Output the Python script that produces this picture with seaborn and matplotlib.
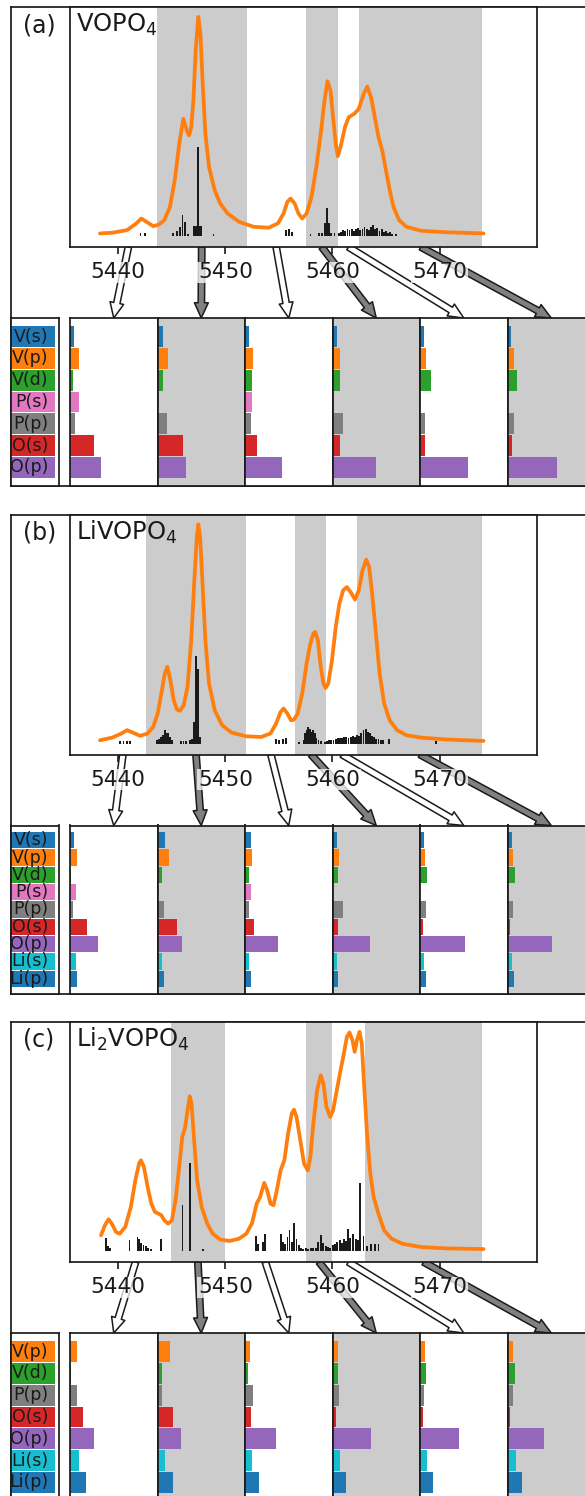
import numpy as np
import pandas as pd
import matplotlib
matplotlib.use("Agg")
import matplotlib.pyplot as plt
import matplotlib.transforms as mtransforms
import seaborn as sns

sns.set_theme(style="white", rc={"text.color": "k", "axes.edgecolor": "k",
                                 "xtick.color": "k", "axes.labelcolor": "k"})
plt.rcParams["font.family"] = ["DejaVu Sans"]

# ---------------- data ----------------
tick_values = [5440, 5450, 5460, 5470]
tick_labels = ["5440", "5450", "5460", "5470"]

# (a) VOPO4 spectrum
a_energy = [5438.30, 5439.44, 5440.83, 5441.70, 5442.16, 5442.64, 5443.27, 5443.79, 5444.31, 5444.83,
            5445.28, 5445.70, 5446.08, 5446.40, 5446.61, 5446.82, 5447.02, 5447.23, 5447.48, 5447.68,
            5447.89, 5448.14, 5448.48, 5449.01, 5449.53, 5450.22, 5451.27, 5452.66, 5454.05, 5454.92,
            5455.44, 5455.79, 5456.10, 5456.48, 5456.83, 5457.18, 5457.59, 5458.05, 5458.50, 5458.91,
            5459.26, 5459.54, 5459.82, 5460.06, 5460.31, 5460.51, 5460.83, 5461.17, 5461.52, 5462.04,
            5462.46, 5462.91, 5463.26, 5463.61, 5463.96, 5464.30, 5464.65, 5465.00, 5465.35, 5465.70,
            5466.22, 5466.91, 5468.30, 5470.74, 5474.11]
a_intensity = [0.012, 0.015, 0.027, 0.058, 0.080, 0.065, 0.045, 0.052, 0.073, 0.133,
               0.255, 0.421, 0.535, 0.482, 0.459, 0.497, 0.618, 0.845, 1.000, 0.921,
               0.694, 0.467, 0.315, 0.209, 0.148, 0.103, 0.065, 0.042, 0.038, 0.058,
               0.103, 0.156, 0.171, 0.148, 0.103, 0.080, 0.103, 0.179, 0.315, 0.467,
               0.618, 0.706, 0.664, 0.542, 0.421, 0.364, 0.421, 0.497, 0.542, 0.558,
               0.580, 0.648, 0.682, 0.633, 0.542, 0.452, 0.391, 0.300, 0.209, 0.133,
               0.073, 0.042, 0.024, 0.017, 0.012]
a_stick_x = [5442.08, 5442.5, 5445.15, 5445.5, 5445.8, 5446.0, 5446.2, 5446.5, 5447.1, 5447.25,
             5447.46, 5447.6, 5447.75, 5448.9,
             5455.7, 5455.96, 5456.2, 5457.96, 5458.76, 5459.0, 5459.3, 5459.5, 5459.7, 5459.9, 5460.2,
             5460.6, 5460.8, 5461.0, 5461.2, 5461.4, 5461.6, 5461.8, 5462.0, 5462.2, 5462.4,
             5462.6, 5462.8, 5463.0, 5463.2, 5463.4, 5463.6, 5463.8, 5464.0, 5464.2, 5464.4,
             5464.6, 5464.8, 5465.0, 5465.2, 5465.4, 5465.6, 5465.9]
a_stick_h = [0.014, 0.012, 0.013, 0.024, 0.04, 0.097, 0.062, 0.01, 0.047, 0.047,
             0.406, 0.047, 0.047, 0.01,
             0.026, 0.03, 0.02, 0.01, 0.015, 0.015, 0.06, 0.13, 0.06, 0.015, 0.015,
             0.012, 0.02, 0.026, 0.022, 0.03, 0.026, 0.033, 0.024, 0.03, 0.035,
             0.027, 0.03, 0.04, 0.033, 0.028, 0.04, 0.05, 0.03, 0.036, 0.022,
             0.03, 0.018, 0.024, 0.014, 0.02, 0.01, 0.008]
a_bounds = [5438.3, 5443.6, 5452.0, 5457.5, 5460.5, 5462.5, 5474.0]
a_orbitals = ["V(s)", "V(p)", "V(d)", "P(s)", "P(p)", "O(s)", "O(p)"]
a_dos_1 = [0.043, 0.098, 0.034, 0.098, 0.056, 0.278, 0.350]
a_dos_2 = [0.060, 0.120, 0.060, 0.004, 0.111, 0.295, 0.325]
a_dos_3 = [0.043, 0.090, 0.081, 0.077, 0.064, 0.141, 0.419]
a_dos_4 = [0.047, 0.090, 0.090, 0.021, 0.120, 0.081, 0.500]
a_dos_5 = [0.043, 0.068, 0.128, 0.004, 0.060, 0.056, 0.543]
a_dos_6 = [0.038, 0.077, 0.111, 0.004, 0.073, 0.047, 0.568]

# (b) LiVOPO4 spectrum
b_energy = [5438.30, 5439.44, 5440.31, 5440.83, 5441.36, 5442.05, 5442.75, 5443.27, 5443.69, 5444.03,
            5444.35, 5444.59, 5444.87, 5445.18, 5445.49, 5445.77, 5446.12, 5446.47, 5446.82, 5447.09,
            5447.34, 5447.48, 5447.65, 5447.89, 5448.14, 5448.48, 5449.01, 5449.70, 5450.57, 5451.96,
            5453.35, 5454.22, 5454.74, 5455.16, 5455.44, 5455.79, 5456.13, 5456.41, 5456.76, 5457.18,
            5457.59, 5457.94, 5458.22, 5458.39, 5458.64, 5458.91, 5459.16, 5459.37, 5459.61, 5459.96,
            5460.31, 5460.65, 5461.00, 5461.35, 5461.70, 5462.11, 5462.46, 5462.81, 5463.16, 5463.43,
            5463.71, 5464.06, 5464.41, 5464.83, 5465.35, 5466.04, 5466.91, 5468.30, 5470.74, 5474.11]
b_intensity = [0.015, 0.027, 0.046, 0.061, 0.050, 0.035, 0.046, 0.076, 0.137, 0.228,
               0.319, 0.350, 0.289, 0.198, 0.155, 0.149, 0.175, 0.258, 0.471, 0.729,
               0.942, 1.000, 0.942, 0.714, 0.471, 0.274, 0.152, 0.084, 0.050, 0.033,
               0.030, 0.046, 0.091, 0.144, 0.160, 0.137, 0.106, 0.109, 0.137, 0.228,
               0.365, 0.456, 0.502, 0.509, 0.471, 0.350, 0.274, 0.254, 0.274, 0.380,
               0.532, 0.638, 0.699, 0.714, 0.691, 0.657, 0.699, 0.790, 0.839, 0.805,
               0.684, 0.502, 0.319, 0.182, 0.106, 0.061, 0.038, 0.027, 0.018, 0.012]
b_stick_x = [5440.2, 5440.5, 5440.8, 5441.1,
             5443.6, 5443.8, 5444.0, 5444.2, 5444.4, 5444.55, 5444.7, 5444.85, 5445.0,
             5445.9, 5446.1, 5446.3, 5446.7, 5446.9, 5447.1, 5447.27, 5447.43, 5447.6,
             5454.7, 5455.0, 5455.4, 5455.65,
             5456.9, 5457.3, 5457.45, 5457.6, 5457.75, 5457.9, 5458.05, 5458.2, 5458.35, 5458.5,
             5458.7, 5458.9,
             5459.3, 5459.5, 5459.7, 5459.9, 5460.1, 5460.3, 5460.5, 5460.7, 5460.9, 5461.1,
             5461.3, 5461.5, 5461.7, 5461.9, 5462.1, 5462.3, 5462.5, 5462.7, 5462.9, 5463.1,
             5463.3, 5463.5, 5463.7, 5463.9, 5464.1, 5464.3, 5464.5, 5464.7,
             5465.3, 5469.7]
b_stick_h = [0.01, 0.01, 0.01, 0.01,
             0.015, 0.023, 0.03, 0.038, 0.061, 0.05, 0.046, 0.03, 0.015,
             0.01, 0.01, 0.01, 0.015, 0.023, 0.1, 0.40, 0.34, 0.03,
             0.02, 0.015, 0.023, 0.026,
             0.005, 0.015, 0.046, 0.06, 0.076, 0.068, 0.053, 0.06, 0.046, 0.027,
             0.018, 0.012,
             0.008, 0.012, 0.015, 0.016, 0.018, 0.022, 0.025, 0.027, 0.024, 0.029,
             0.03, 0.027, 0.032, 0.033, 0.03, 0.038, 0.035, 0.046, 0.061, 0.068,
             0.053, 0.046, 0.035, 0.03, 0.023, 0.02, 0.018, 0.015,
             0.02, 0.012]
b_bounds = [5438.3, 5442.57, 5451.96, 5456.55, 5459.44, 5462.32, 5474.0]
b_orbitals = ["V(s)", "V(p)", "V(d)", "P(s)", "P(p)", "O(s)", "O(p)", "Li(s)", "Li(p)"]
b_dos_1 = [0.043, 0.081, 0.017, 0.068, 0.034, 0.197, 0.325, 0.068, 0.085]
b_dos_2 = [0.081, 0.132, 0.051, 0.004, 0.073, 0.222, 0.282, 0.056, 0.077]
b_dos_3 = [0.064, 0.077, 0.047, 0.064, 0.047, 0.107, 0.372, 0.047, 0.064]
b_dos_4 = [0.051, 0.073, 0.060, 0.004, 0.115, 0.068, 0.432, 0.047, 0.064]
b_dos_5 = [0.047, 0.060, 0.085, 0.004, 0.064, 0.034, 0.509, 0.047, 0.064]
b_dos_6 = [0.047, 0.068, 0.090, 0.004, 0.060, 0.026, 0.509, 0.056, 0.077]

# (c) Li2VOPO4 spectrum
c_energy = [5438.40, 5438.75, 5439.10, 5439.44, 5439.79, 5440.14, 5440.66, 5441.18, 5441.60, 5441.95,
            5442.12, 5442.40, 5442.75, 5443.09, 5443.44, 5443.79, 5444.03, 5444.31, 5444.66, 5445.01,
            5445.35, 5445.70, 5445.98, 5446.26, 5446.47, 5446.68, 5446.85, 5447.09, 5447.37, 5447.79,
            5448.31, 5448.83, 5449.53, 5450.40, 5451.27, 5451.96, 5452.48, 5452.93, 5453.25, 5453.63,
            5453.91, 5454.22, 5454.50, 5454.81, 5455.16, 5455.51, 5455.86, 5456.20, 5456.41, 5456.65,
            5457.00, 5457.35, 5457.70, 5457.94, 5458.22, 5458.57, 5458.91, 5459.16, 5459.44, 5459.79,
            5460.06, 5460.41, 5460.76, 5461.07, 5461.35, 5461.59, 5461.87, 5462.08, 5462.29, 5462.53,
            5462.74, 5462.95, 5463.23, 5463.54, 5463.85, 5464.30, 5464.83, 5465.52, 5466.56, 5468.30,
            5470.74, 5474.11]
c_intensity = [0.072, 0.117, 0.145, 0.122, 0.087, 0.079, 0.110, 0.201, 0.323, 0.399,
               0.414, 0.384, 0.292, 0.216, 0.178, 0.170, 0.163, 0.140, 0.125, 0.140,
               0.231, 0.384, 0.521, 0.566, 0.642, 0.706, 0.673, 0.505, 0.323, 0.201,
               0.125, 0.079, 0.052, 0.046, 0.056, 0.079, 0.125, 0.216, 0.247, 0.311,
               0.277, 0.216, 0.209, 0.277, 0.368, 0.414, 0.536, 0.627, 0.645, 0.612,
               0.505, 0.399, 0.368, 0.429, 0.581, 0.734, 0.802, 0.764, 0.658, 0.612,
               0.642, 0.734, 0.825, 0.901, 0.977, 0.997, 0.962, 0.909, 0.962, 1.000,
               0.947, 0.764, 0.536, 0.353, 0.247, 0.170, 0.094, 0.056, 0.033, 0.018,
               0.012, 0.009]
c_stick_x = [5438.85, 5439.04, 5439.2, 5441.05, 5441.8, 5441.95, 5442.14, 5442.36, 5442.58, 5442.8,
             5443.1, 5444.0, 5446.0, 5446.7, 5447.95,
             5452.86, 5453.08, 5453.5, 5453.7, 5455.2, 5455.35, 5455.56, 5455.8, 5456.0, 5456.2,
             5456.43, 5456.65, 5456.87, 5457.05, 5457.27, 5457.5, 5457.75, 5458.0, 5458.2, 5458.45,
             5458.67, 5458.9, 5459.1, 5459.4, 5459.6, 5459.8, 5460.07, 5460.25, 5460.45, 5460.69,
             5460.9, 5461.06, 5461.25, 5461.46, 5461.65, 5461.9, 5462.2, 5462.4, 5462.6, 5462.9,
             5463.26, 5463.6, 5463.96, 5464.3]
c_stick_h = [0.058, 0.023, 0.012, 0.049, 0.064, 0.053, 0.038, 0.027, 0.023, 0.015,
             0.011, 0.053, 0.21, 0.40, 0.008,
             0.067, 0.03, 0.041, 0.079, 0.079, 0.041, 0.03, 0.064, 0.094, 0.041,
             0.13, 0.056, 0.026, 0.015, 0.01, 0.012, 0.01, 0.013, 0.012, 0.015,
             0.041, 0.072, 0.037, 0.021, 0.018, 0.015, 0.026, 0.03, 0.041, 0.049,
             0.035, 0.056, 0.045, 0.1, 0.06, 0.079, 0.056, 0.049, 0.31, 0.07,
             0.023, 0.03, 0.033, 0.033]
c_bounds = [5438.3, 5444.94, 5449.94, 5457.52, 5459.96, 5463.02, 5474.0]
c_orbitals = ["V(p)", "V(d)", "P(p)", "O(s)", "O(p)", "Li(s)", "Li(p)"]
c_dos_1 = [0.077, 0.017, 0.085, 0.145, 0.278, 0.107, 0.188]
c_dos_2 = [0.141, 0.051, 0.056, 0.175, 0.265, 0.085, 0.175]
c_dos_3 = [0.060, 0.034, 0.090, 0.064, 0.359, 0.085, 0.158]
c_dos_4 = [0.064, 0.064, 0.077, 0.043, 0.436, 0.085, 0.150]
c_dos_5 = [0.060, 0.068, 0.047, 0.030, 0.440, 0.085, 0.154]
c_dos_6 = [0.068, 0.085, 0.060, 0.030, 0.415, 0.098, 0.167]

orbital_colors = {"V(s)": "#1f77b4", "V(p)": "#ff7f0e", "V(d)": "#2ca02c", "P(s)": "#e377c2",
                  "P(p)": "#7f7f7f", "O(s)": "#d62728", "O(p)": "#9467bd",
                  "Li(s)": "#17becf", "Li(p)": "#1f77b4"}

panels = [
    ("(a)", "VOPO$_4$", a_energy, a_intensity, a_stick_x, a_stick_h, a_bounds, a_orbitals,
     [a_dos_1, a_dos_2, a_dos_3, a_dos_4, a_dos_5, a_dos_6]),
    ("(b)", "LiVOPO$_4$", b_energy, b_intensity, b_stick_x, b_stick_h, b_bounds, b_orbitals,
     [b_dos_1, b_dos_2, b_dos_3, b_dos_4, b_dos_5, b_dos_6]),
    ("(c)", "Li$_2$VOPO$_4$", c_energy, c_intensity, c_stick_x, c_stick_h, c_bounds, c_orbitals,
     [c_dos_1, c_dos_2, c_dos_3, c_dos_4, c_dos_5, c_dos_6]),
]

# ---------------- layout ----------------
W, H = 585, 1496
fig = plt.figure(figsize=(W / 100, H / 100), dpi=100)


def add_ax(left, top, width, height, zorder):
    return fig.add_axes([left / W, 1 - (top + height) / H, width / W, height / H], zorder=zorder)


def style_spines(ax, lw=1.25):
    for s in ax.spines.values():
        s.set_visible(True)
        s.set_linewidth(lw)
        s.set_color("k")


SPEC_L, SPEC_W, SPEC_H = 70, 467, 240
BAR_L, BAR_W, BAR_TOP, BAR_H = 70, 87.5, 311, 168
GRAY = "0.8"

for k, (tag, name, ex, ey, sx, sh, bounds, orbitals, dos) in enumerate(panels):
    top = 7 + 507.5 * k

    frame = add_ax(11, top, 700, 479, zorder=0)
    frame.set_xticks([])
    frame.set_yticks([])
    style_spines(frame)

    # spectrum
    spec = add_ax(SPEC_L, top, SPEC_W, SPEC_H, zorder=2)
    for i in (1, 3, 5):
        spec.axvspan(bounds[i], bounds[i + 1], color=GRAY, lw=0, zorder=0)
    spec.bar(sx, sh, width=0.17, color="k", lw=0, zorder=2)
    sns.lineplot(x=ex, y=ey, color="#ff7f0e", linewidth=2.7, ax=spec, zorder=3,
                 solid_joinstyle="round", solid_capstyle="round")
    spec.set_xlim(5435.5, 5479.1)
    spec.set_ylim(-0.05, 1.045)
    spec.set_yticks([])
    spec.set_xticks(tick_values, tick_labels, fontsize=15.5)
    spec.tick_params(axis="x", bottom=True, direction="out", length=5, width=1.2, pad=6)
    for t in spec.get_xticklabels():
        t.set_bbox(dict(facecolor="white", edgecolor="none", alpha=0.75, pad=0.5))
    spec.set_xlabel("")
    spec.set_ylabel("")
    style_spines(spec)
    spec.text(6.5 / SPEC_W, 1 - 25 / SPEC_H, name, transform=spec.transAxes,
              fontsize=17.5, va="baseline", ha="left")
    fig.text(23 / W, 1 - (top + 25) / H, tag, fontsize=17, va="baseline", ha="left")

    n = len(orbitals)
    palette = {o: orbital_colors[o] for o in orbitals}

    # orbital label column
    lab = add_ax(11, top + BAR_TOP, 47.6, BAR_H, zorder=2)
    sns.barplot(x=[1.0] * n, y=orbitals, hue=orbitals, palette=palette, order=orbitals,
                hue_order=orbitals, width=0.95, saturation=1, legend=False, errorbar=None,
                orient="h", linewidth=0, ax=lab)
    lab.set_xlim(0, 1.08)
    lab.set_ylim(n - 0.15, -0.85)
    lab.set(xticks=[], yticks=[], xlabel="", ylabel="")
    style_spines(lab)
    blend = mtransforms.blended_transform_factory(lab.transAxes, lab.transData)
    for j, o in enumerate(orbitals):
        lab.text(0.79, j, o, transform=blend, ha="right", va="center", fontsize=12.5,
                 color="k", clip_on=True)

    # bar panels + arrows
    centers = [(bounds[i] + bounds[i + 1]) / 2 for i in range(6)]
    start_tf = mtransforms.blended_transform_factory(spec.transData, spec.transAxes)
    for i in range(6):
        bax = add_ax(BAR_L + BAR_W * i, top + BAR_TOP, BAR_W, BAR_H, zorder=2)
        df = pd.DataFrame({"orbital": orbitals, "weight": dos[i]})
        sns.barplot(data=df, x="weight", y="orbital", hue="orbital", palette=palette,
                    order=orbitals, hue_order=orbitals, width=0.95, saturation=1,
                    legend=False, errorbar=None, orient="h", linewidth=0, ax=bax)
        bax.set_facecolor(GRAY if i % 2 else "white")
        bax.set_xlim(0, 1)
        bax.set_ylim(n - 0.15, -0.85)
        bax.set(xticks=[], yticks=[], xlabel="", ylabel="")
        style_spines(bax)

        frame.annotate("", xy=(0.5, 1.0), xycoords=bax.transAxes,
                       xytext=(centers[i], 0.0), textcoords=start_tf,
                       arrowprops=dict(arrowstyle="simple,head_length=11,head_width=10,tail_width=4.6",
                                       mutation_scale=1, fc=("white" if i % 2 == 0 else "0.5"),
                                       ec="k", lw=1.1, shrinkA=0, shrinkB=0))

fig.savefig("out.png", dpi=100)
